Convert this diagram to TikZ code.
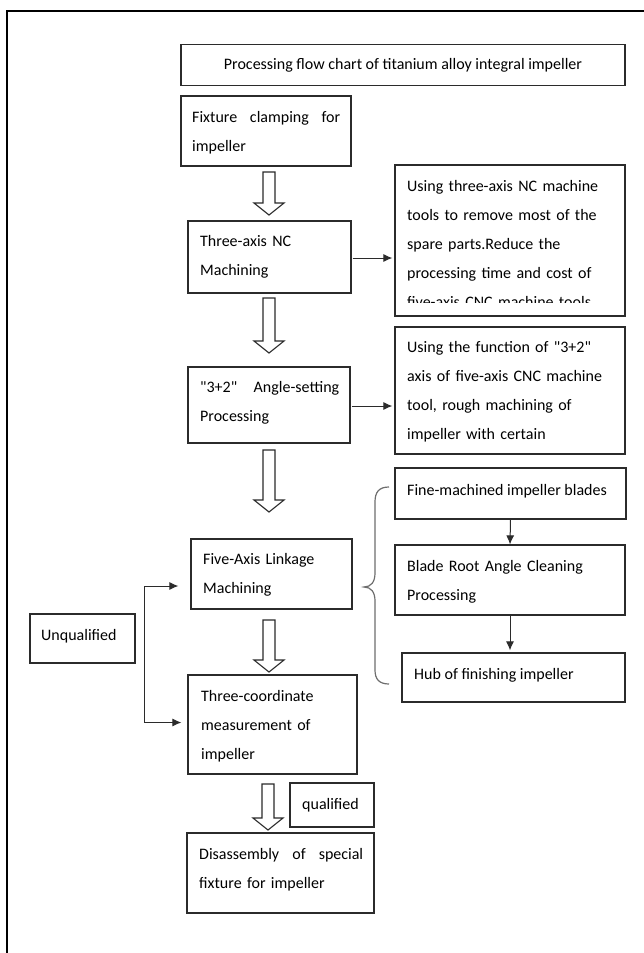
\documentclass[tikz,border=0pt]{standalone}
\usepackage{fontspec}
\newfontfamily\cfont{Carlito}
\usetikzlibrary{arrows.meta}
\definecolor{boxline}{HTML}{2B2B2B}
\definecolor{bracecol}{HTML}{6E6E6E}
\newcommand{\hollowarrow}[3]{%
  \draw[boxline, line width=1.1pt, line join=miter]
    (#1-6,#2) -- (#1+6,#2) -- (#1+6,#3-12) -- (#1+15,#3-12) -- (#1,#3)
    -- (#1-15,#3-12) -- (#1-6,#3-12) -- cycle;}
\begin{document}
\begin{tikzpicture}[x=1pt,y=-1pt,
  box/.style={draw=boxline, line width=1.2pt, rectangle, inner xsep=0pt, inner ysep=0pt,
     font=\cfont\fontsize{16}{29}\selectfont},
  txt/.style={align=left, inner sep=0pt, anchor=west, font=\cfont\fontsize{16}{29}\selectfont},
  arr/.style={draw=boxline, line width=1pt, -{Latex[length=9pt,width=8pt]}}
]
\useasboundingbox (0,0) rectangle (644,953);
\fill[white] (0,0) rectangle (644,953);
% outer frame
\draw[black, line width=1.2pt] (7,953) -- (7,11) -- (644,11);

% title
\node[box, minimum width=444pt, minimum height=41pt] (title) at (403,65) {Processing flow chart of titanium alloy integral impeller};

% left column boxes
\node[box, minimum width=170pt, minimum height=70pt] (fix) at (266,131) {};
\node[txt, text width=148pt] (fixt) at (192,132.5) {Fixture\hfill clamping\hfill for\\impeller};

\node[box, minimum width=163pt, minimum height=72pt] (tax) at (269.5,257) {};
\node[txt, text width=140pt] (taxt) at (200,257) {Three-axis NC\\Machining};

\node[box, minimum width=162pt, minimum height=76pt] (ang) at (269,405) {};
\node[txt, text width=139pt] (angt) at (200,402.5) {"3+2"\hfill Angle-setting\\Processing};

\node[box, minimum width=161pt, minimum height=70pt] (fa) at (271.5,574) {};
\node[txt, text width=140pt] (fat) at (203,574.5) {Five-Axis Linkage\\Machining};

\node[box, minimum width=105pt, minimum height=49pt] (unq) at (82.5,638.5) {};
\node[txt] (unqt) at (41,636) {Unqualified};

\node[box, minimum width=169pt, minimum height=99pt] (tc) at (272.5,724.5) {};
\node[txt, text width=150pt] (tct) at (201,726.5) {Three-coordinate\\measurement of\\impeller};

\node[box, minimum width=84pt, minimum height=44pt] (qual) at (332,805) {};
\node[txt] (qualt) at (302,805) {qualified};

\node[box, minimum width=187pt, minimum height=80pt] (dis) at (280.5,873) {};
\node[txt, text width=164pt] (dist) at (199,870) {Disassembly\hfill of\hfill special\\fixture for impeller};

% right column boxes
\node[box, minimum width=230pt, minimum height=151pt] (r1) at (510,240.5) {};
\begin{scope}
  \clip (396,166) rectangle (624,302.5);
  \node[txt, text width=212pt] (r1t) at (407,244.5) {Using three-axis NC machine\\tools to remove most of the\\spare parts.Reduce the\\processing time and cost of\\five-axis CNC machine tools};
\end{scope}

\node[box, minimum width=230pt, minimum height=127pt] (r2) at (510,390.5) {};
\node[txt, text width=212pt] (r2t) at (407,391.5) {Using the function of "3+2"\\axis of five-axis CNC machine\\tool, rough machining of\\impeller with certain};

\node[box, minimum width=231pt, minimum height=51pt] (fine) at (510.5,493.5) {};
\node[txt] (finet) at (407,491) {Fine-machined impeller blades};

\node[box, minimum width=230pt, minimum height=70pt] (blade) at (510,580) {};
\node[txt, text width=212pt] (bladet) at (407,581.5) {Blade Root Angle Cleaning\\Processing};

\node[box, minimum width=223pt, minimum height=49pt] (hub) at (513.5,677.5) {};
\node[txt] (hubt) at (414,675) {Hub of finishing impeller};

% hollow arrows
\hollowarrow{269}{172}{215}
\hollowarrow{269}{298}{353}
\hollowarrow{269}{450}{512}
\hollowarrow{269}{620}{672}
\hollowarrow{268}{784}{830}

% thin arrows
\draw[arr, shorten <=1pt, shorten >=2pt] ([yshift=-1pt]tax.east) -- ([yshift=-1pt]tax.east -| r1.west);
\draw[arr, shorten <=1pt, shorten >=2pt] ([yshift=-1pt]ang.east) -- ([yshift=-1pt]ang.east -| r2.west);
\draw[arr] (fine.south) -- (blade.north);
\draw[arr, shorten >=2pt] (blade.south) -- (blade.south |- hub.north);

% loop
\coordinate (lx) at (144,0);
\coordinate (faw) at ([yshift=-12pt]fa.west);
\coordinate (tcw) at ([yshift=2pt]tc.west);
\draw[draw=boxline, line width=1pt, {Latex[length=9pt,width=8pt]}-{Latex[length=9pt,width=8pt]}, shorten <=12pt, shorten >=6pt]
  (faw) -- (lx |- faw) -- (lx |- tcw) -- (tcw);

% brace
\draw[bracecol, line width=1.2pt] (389,487) .. controls (379,487) and (375,492) .. (375,502)
  -- (375,573) .. controls (375,582) and (371,587) .. (364,587)
  .. controls (371,587) and (375,592) .. (375,601)
  -- (375,670) .. controls (375,679) and (379,684) .. (389,684);
\end{tikzpicture}
\end{document}
